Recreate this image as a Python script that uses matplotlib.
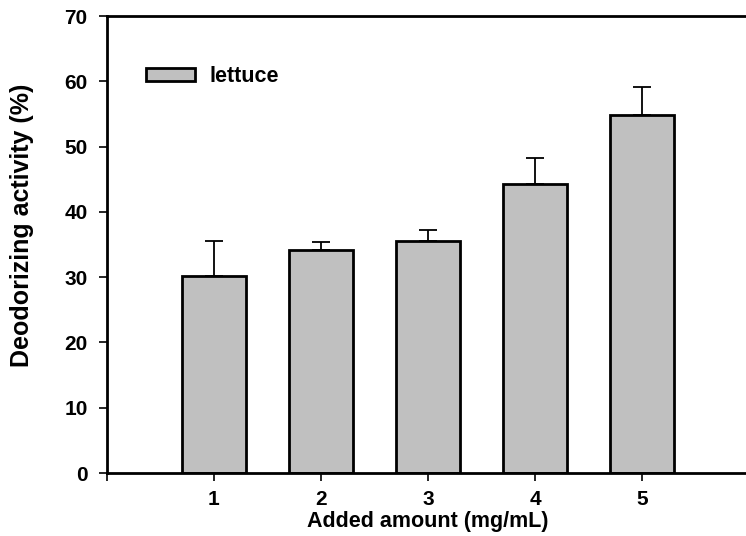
import numpy as np
import matplotlib.pyplot as plt

plt.rcParams['font.family'] = ['Liberation Sans', 'DejaVu Sans']
plt.rcParams['font.weight'] = 'bold'

# deodorizing activity of lettuce extract
amounts = [1, 2, 3, 4, 5]
activity = [30.2, 34.1, 35.5, 44.3, 54.9]
err_up = [5.4, 1.3, 1.7, 3.9, 4.3]

fig = plt.figure(figsize=(7.46, 5.36), dpi=100)
ax = fig.add_axes([0.1434, 0.1175, 0.8606, 0.8526])

ax.bar(amounts, activity, width=0.6, color='#c0c0c0', edgecolor='black',
       linewidth=2, label='lettuce', zorder=2)
ax.errorbar(amounts, activity, yerr=[np.zeros(len(err_up)), err_up], fmt='none',
            ecolor='black', elinewidth=1.3, capsize=6.5, capthick=1.3, zorder=1)

ax.set_xlim(0, 6)
ax.set_ylim(0, 70)
ax.set_xticks([0, 1, 2, 3, 4, 5, 6])
ax.set_xticklabels(['', '1', '2', '3', '4', '5', ''])
ax.set_yticks(range(0, 80, 10))

for side in ['left', 'bottom', 'top']:
    ax.spines[side].set_linewidth(2)
ax.spines['right'].set_visible(False)
ax.tick_params(axis='both', direction='out', length=6, width=1.2, labelsize=15)
ax.tick_params(axis='x', pad=6)
ax.tick_params(axis='y', pad=8)
for lbl in ax.get_xticklabels() + ax.get_yticklabels():
    lbl.set_fontweight('bold')

ax.set_xlabel('Added amount (mg/mL)', fontsize=15.5, fontweight='bold')
ax.xaxis.set_label_coords(0.5, -0.084)
ax.set_ylabel('Deodorizing activity (%)', fontsize=18, fontweight='bold')
ax.yaxis.set_label_coords(-0.114, 0.543)

leg = ax.legend(loc='center left', bbox_to_anchor=(0.061, 0.868), frameon=False,
                fontsize=15.5, handlelength=2.28, handleheight=0.56, handletextpad=0.65,
                borderpad=0, borderaxespad=0)
for t in leg.get_texts():
    t.set_fontweight('bold')

fig.savefig('out.png', dpi=100)
